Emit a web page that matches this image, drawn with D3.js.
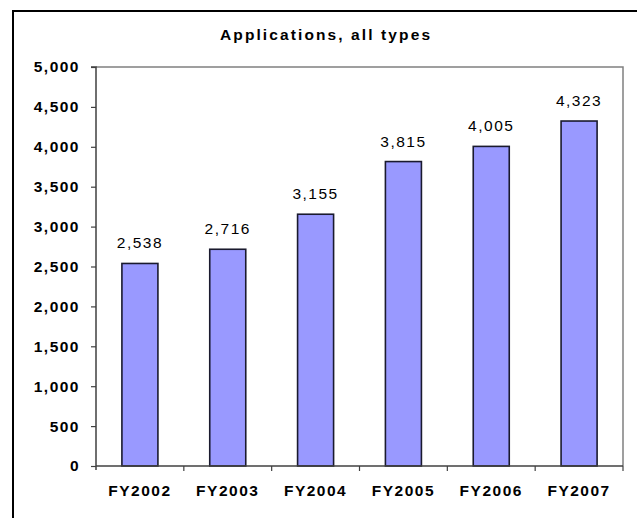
<!DOCTYPE html>
<html>
<head>
<meta charset="utf-8">
<script src="https://cdn.jsdelivr.net/npm/d3@7"></script>
<style>
  html, body { margin: 0; padding: 0; background: #fff; }
  svg { display: block; }
  text { font-family: Arial, "Liberation Sans", sans-serif; fill: #000; }
</style>
</head>
<body>
<svg id="chart" width="637" height="518"></svg>
<script>
// Fiscal years and application counts
const years = ["FY2002", "FY2003", "FY2004", "FY2005", "FY2006", "FY2007"];
const applications = [2538, 2716, 3155, 3815, 4005, 4323];
const yTicks = [0, 500, 1000, 1500, 2000, 2500, 3000, 3500, 4000, 4500, 5000];
const chartTitle = "Applications, all types";

const svg = d3.select("#chart");
const plot = { left: 96, right: 623, top: 67, bottom: 466 };

// Outer chart frame (runs off the right and bottom edges)
svg.append("rect")
  .attr("x", 13).attr("y", 11)
  .attr("width", 700).attr("height", 600)
  .attr("fill", "#fff").attr("stroke", "#000").attr("stroke-width", 2);

const x = d3.scaleBand()
  .domain(years)
  .range([plot.left, plot.right])
  .paddingInner(0.59)
  .paddingOuter(0.295);

const y = d3.scaleLinear()
  .domain([0, 5000])
  .range([plot.bottom, plot.top]);

// Plot area border (top and right)
svg.append("path")
  .attr("d", `M${plot.left},${plot.top}H${plot.right}V${plot.bottom}`)
  .attr("fill", "none").attr("stroke", "#808080").attr("stroke-width", 1.5);

// Title
svg.append("text")
  .attr("x", 325).attr("y", 40)
  .attr("text-anchor", "middle")
  .attr("font-size", 15.5).attr("font-weight", "bold")
  .attr("textLength", 210).attr("lengthAdjust", "spacing")
  .text(chartTitle);

// Bars
svg.append("g").selectAll("rect")
  .data(applications)
  .join("rect")
  .attr("x", (d, i) => x(years[i]))
  .attr("y", d => y(d))
  .attr("width", x.bandwidth())
  .attr("height", d => y(0) - y(d))
  .attr("fill", "#9999FF")
  .attr("stroke", "#1a1a2e")
  .attr("stroke-width", 1.6);

// Value labels
const fmt = d3.format(",");
svg.append("g").selectAll("text")
  .data(applications)
  .join("text")
  .attr("x", (d, i) => x(years[i]) + x.bandwidth() / 2)
  .attr("y", d => y(d) - 15)
  .attr("text-anchor", "middle")
  .attr("font-size", 15.5)
  .attr("letter-spacing", 1.5)
  .text(d => fmt(d));

// Y axis
const yAxis = d3.axisLeft(y)
  .tickValues(yTicks)
  .tickFormat(fmt)
  .tickSize(5)
  .tickPadding(11);
const gy = svg.append("g")
  .attr("transform", `translate(${plot.left},0)`)
  .call(yAxis);
gy.select(".domain").attr("stroke", "#404040").attr("stroke-width", 1.5)
  .attr("d", `M-5,${plot.top}H0V${plot.bottom + 4}`);
gy.selectAll(".tick line").attr("stroke", "#404040").attr("stroke-width", 1.2);
gy.selectAll(".tick text")
  .attr("font-size", 15.5).attr("font-weight", "bold")
  .attr("letter-spacing", 1.5)
  .attr("font-family", "Arial, 'Liberation Sans', sans-serif")
  .attr("fill", "#000");

// X axis: category labels with tick marks between categories
const gx = svg.append("g")
  .attr("transform", `translate(0,${plot.bottom})`);
gx.append("line")
  .attr("x1", plot.left).attr("x2", plot.right)
  .attr("stroke", "#404040").attr("stroke-width", 1.5);
const boundaries = years.map(c => x(c) - x.step() * x.paddingOuter()).concat([plot.right]);
gx.selectAll("line.tk")
  .data(boundaries.slice(1))
  .join("line")
  .attr("class", "tk")
  .attr("x1", d => d).attr("x2", d => d)
  .attr("y1", 0).attr("y2", 5)
  .attr("stroke", "#404040").attr("stroke-width", 1.2);
gx.selectAll("text")
  .data(years)
  .join("text")
  .attr("x", d => x(d) + x.bandwidth() / 2)
  .attr("y", 30)
  .attr("text-anchor", "middle")
  .attr("font-size", 15.5).attr("font-weight", "bold")
  .attr("letter-spacing", 1.5)
  .text(d => d);
</script>
</body>
</html>
